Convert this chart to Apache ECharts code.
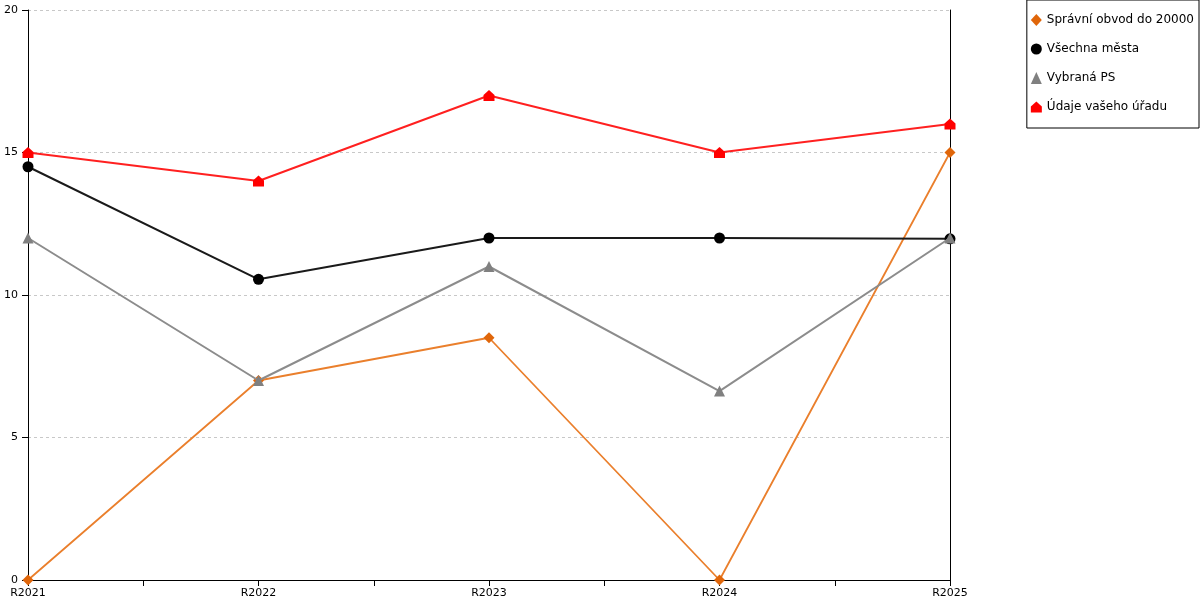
<!doctype html>
<html>
<head>
	<meta charset="utf-8">
	<title></title>
	<script src="https://cdn.jsdelivr.net/npm/echarts@6/dist/echarts.min.js"></script>
</head>
<body style="margin:0">
	<div id="main" style="width: 1200px;height:600px;"></div>
	<script type="text/javascript">
		var categories = ['R2021', 'R2022', 'R2023', 'R2024', 'R2025'];
		var spravniObvod = [0, 7, 8.5, 0, 15];
		var vsechnaMesta = [14.5, 10.55, 12, 12, 11.97];
		var vybranaPS = [12, 7, 11, 6.63, 12];
		var udajeUradu = [15, 14, 17, 15, 16];
		var yTicks = [0, 5, 10, 15, 20];

		var house = 'path://M5,0 L10,4.5 L10,10 L0,10 L0,4.5 Z';
		var font = 'DejaVu Sans';

		// x jako index, aby šly udělat čárky i mezi roky
		function pts(arr) {
			return arr.map((v, i) => [i, v]);
		}

		var myChart = echarts.init(document.getElementById('main'));
		var option = {
			animation: false,
			textStyle: { fontFamily: font },
			grid: { left: 28, right: 250, top: 10, bottom: 20, containLabel: false },
			legend: {
				orient: 'vertical',
				right: 1,
				top: 0,
				padding: [14, 5, 15, 4],
				itemGap: 17,
				itemWidth: 11,
				itemHeight: 12,
				borderColor: '#000',
				borderWidth: 1,
				textStyle: { fontFamily: font, fontSize: 12, color: '#000' },
				data: [
					{ name: 'Správní obvod do 20000', icon: 'diamond' },
					{ name: 'Všechna města', icon: 'circle' },
					{ name: 'Vybraná PS', icon: 'triangle' },
					{ name: 'Údaje vašeho úřadu', icon: house }
				]
			},
			xAxis: {
				type: 'value',
				min: 0,
				max: categories.length - 1,
				interval: 0.5,
				axisLine: { lineStyle: { color: '#000' } },
				axisTick: { show: true, length: 6, lineStyle: { color: '#000' } },
				splitLine: { show: false },
				axisLabel: {
					color: '#000',
					fontSize: 11,
					margin: 8,
					showMinLabel: true,
					showMaxLabel: true,
					formatter: v => (Number.isInteger(v) ? categories[v] : '')
				}
			},
			yAxis: [
				{
					type: 'value',
					min: yTicks[0],
					max: yTicks[yTicks.length - 1],
					interval: yTicks[1] - yTicks[0],
					axisLine: { show: true, lineStyle: { color: '#000' } },
					axisTick: { show: true, length: 6, lineStyle: { color: '#000' } },
					axisLabel: { color: '#000', fontSize: 11, margin: 10 },
					splitLine: { lineStyle: { color: '#c8c8c8', type: [3, 3] } }
				},
				{
					type: 'value',
					position: 'right',
					min: 0,
					max: 20,
					axisLine: { show: true, lineStyle: { color: '#000' } },
					axisTick: { show: false },
					axisLabel: { show: false },
					splitLine: { show: false }
				}
			],
			series: [
				{
					name: 'Správní obvod do 20000',
					type: 'line',
					data: pts(spravniObvod),
					symbol: 'diamond',
					symbolSize: 11,
					z: 3,
					itemStyle: { color: '#e0660a' },
					lineStyle: { color: '#ea7f2c', width: 1.8 }
				},
				{
					name: 'Všechna města',
					type: 'line',
					data: pts(vsechnaMesta),
					symbol: 'circle',
					symbolSize: 11,
					z: 4,
					itemStyle: { color: '#000' },
					lineStyle: { color: '#1a1a1a', width: 2 }
				},
				{
					name: 'Vybraná PS',
					type: 'line',
					data: pts(vybranaPS),
					symbol: 'triangle',
					symbolSize: 11,
					z: 5,
					itemStyle: { color: '#808080' },
					lineStyle: { color: '#8c8c8c', width: 2 }
				},
				{
					name: 'Údaje vašeho úřadu',
					type: 'line',
					data: pts(udajeUradu),
					symbol: house,
					symbolSize: 11,
					z: 6,
					itemStyle: { color: '#ff0000' },
					lineStyle: { color: '#ff2020', width: 2 }
				}
			]
		};
		myChart.setOption(option);
	</script>
</body>
</html>
